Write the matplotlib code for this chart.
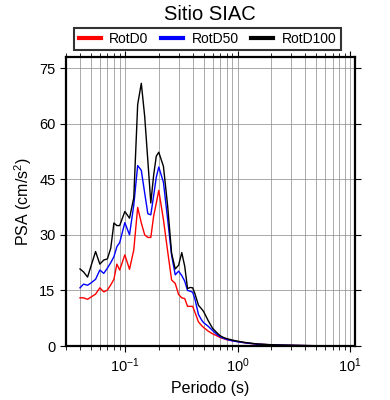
import numpy as np
import matplotlib
matplotlib.use("Agg")
import matplotlib.pyplot as plt
from matplotlib.ticker import LogLocator, NullFormatter, MultipleLocator

plt.rcParams['font.family'] = ['Liberation Sans', 'DejaVu Sans']
plt.rcParams['mathtext.fontset'] = 'custom'
plt.rcParams['mathtext.rm'] = 'Liberation Sans'

# periodos (s)
periods = [0.04, 0.043, 0.0467, 0.05, 0.055, 0.06, 0.065, 0.07, 0.075, 0.08,
           0.085, 0.09, 0.1, 0.11, 0.12, 0.13, 0.14, 0.15, 0.16, 0.17,
           0.18, 0.19, 0.2, 0.22, 0.24, 0.26, 0.28, 0.3, 0.32, 0.34,
           0.36, 0.38, 0.4, 0.42, 0.45, 0.48, 0.5, 0.55, 0.6, 0.65,
           0.7, 0.75, 0.8, 0.9, 1.0, 1.2, 1.5, 2.0, 2.5, 3.0,
           4.0, 5.0, 7.0, 10.0]

rotd0 = [13.0, 13.0, 12.6, 13.2, 14.0, 15.7, 14.6, 15.1, 16.5, 18.0,
         22.1, 20.5, 24.6, 20.7, 25.9, 37.4, 33.2, 30.0, 29.3, 29.3,
         35.0, 38.5, 42.0, 34.1, 25.5, 17.8, 16.9, 13.9, 13.0, 12.8,
         10.7, 10.7, 10.7, 9.0, 6.5, 5.5, 5.0, 4.0, 3.3, 2.8,
         2.3, 2.0, 1.7, 1.4, 1.2, 0.8, 0.5, 0.3, 0.22, 0.17,
         0.1, 0.07, 0.04, 0.03]

rotd50 = [15.7, 16.7, 16.4, 17.0, 18.0, 20.5, 19.6, 21.0, 22.5, 24.1,
          26.8, 27.9, 33.3, 30.0, 38.0, 48.7, 47.4, 41.3, 35.7, 35.4,
          40.5, 45.5, 48.3, 44.2, 34.1, 24.5, 19.2, 20.2, 19.0, 17.5,
          15.0, 14.8, 14.5, 12.5, 8.5, 7.0, 6.3, 5.3, 4.2, 3.2,
          2.5, 2.1, 1.8, 1.4, 1.15, 0.8, 0.5, 0.3, 0.23, 0.18,
          0.11, 0.07, 0.04, 0.03]

rotd100 = [20.8, 20.0, 18.6, 21.5, 25.5, 22.1, 23.2, 23.5, 26.4, 33.2,
           32.5, 32.5, 36.3, 34.5, 40.0, 65.2, 70.9, 62.0, 50.0, 38.6,
           46.0, 51.2, 52.3, 48.5, 37.7, 25.0, 20.8, 21.8, 25.2, 21.5,
           15.5, 15.8, 15.7, 14.0, 11.0, 10.0, 9.3, 6.8, 4.8, 3.7,
           2.8, 2.3, 2.0, 1.6, 1.3, 0.9, 0.55, 0.35, 0.25, 0.2,
           0.12, 0.08, 0.05, 0.03]

fig = plt.figure(figsize=(3.9, 4.0), dpi=100)
ax = fig.add_axes([0.169, 0.135, 0.741, 0.7225])

ax.plot(periods, rotd0, color="red", lw=1.0, label="RotD0")
ax.plot(periods, rotd50, color="blue", lw=1.0, label="RotD50")
ax.plot(periods, rotd100, color="black", lw=1.0, label="RotD100")

ax.set_xscale("log")
ax.set_xlim(0.03, 11)
ax.set_ylim(0, 78)
ax.yaxis.set_major_locator(MultipleLocator(15))
ax.xaxis.set_major_locator(LogLocator(base=10, numticks=10))
ax.xaxis.set_minor_locator(LogLocator(base=10, subs=np.arange(2, 10), numticks=20))
ax.xaxis.set_minor_formatter(NullFormatter())

ax.grid(True, which="major", axis="both", color="#888888", lw=0.5)
ax.grid(True, which="minor", axis="x", color="#888888", lw=0.5)

ax.tick_params(which="both", direction="out", top=True, right=True,
               labelsize=10.5, colors="black")
ax.tick_params(which="major", length=4, width=0.8)
ax.tick_params(which="minor", length=3, width=0.6)
for s in ax.spines.values():
    s.set_linewidth(1.6)

ax.set_xlabel("Periodo (s)", fontsize=11.5)
ax.set_ylabel("PSA (cm/s$^2$)", fontsize=11.5)

fig.text(0.538, 0.965, "Sitio SIAC", ha="center", va="center", fontsize=14.5)
leg = ax.legend(loc="lower center", bbox_to_anchor=(0.49, 1.024), ncol=3,
                frameon=True, fancybox=False, edgecolor="black",
                fontsize=10, handlelength=1.6, handletextpad=0.6,
                columnspacing=0.9, borderpad=0.3, borderaxespad=0)
leg.get_frame().set_linewidth(1.5)
for line in leg.get_lines():
    line.set_linewidth(3)

fig.savefig("out.png", dpi=100)
